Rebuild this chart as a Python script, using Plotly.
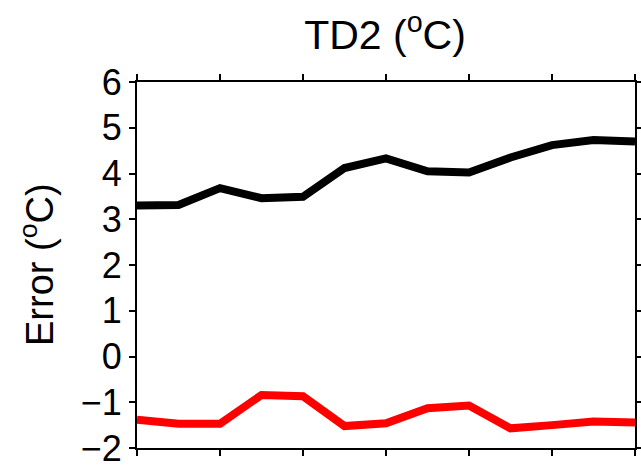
import plotly.graph_objects as go

hours = [0, 1, 2, 3, 4, 5, 6, 7, 8, 9, 10, 11, 12]
black_series = [3.30, 3.31, 3.68, 3.46, 3.49, 4.12, 4.33, 4.05, 4.02, 4.35, 4.62, 4.73, 4.70]
red_series = [-1.38, -1.47, -1.47, -0.84, -0.87, -1.52, -1.46, -1.13, -1.07, -1.57, -1.50, -1.42, -1.44]
y_ticks = [-2, -1, 0, 1, 2, 3, 4, 5, 6]
x_ticks = [0, 2, 4, 6, 8, 10, 12]

FONT = "Liberation Sans, Arial, sans-serif"

W, H = 641, 466

fig = go.Figure()
fig.add_trace(go.Scatter(x=hours, y=black_series, mode="lines",
                         line=dict(color="black", width=8), showlegend=False))
fig.add_trace(go.Scatter(x=hours, y=red_series, mode="lines",
                         line=dict(color="red", width=8), showlegend=False))

fig.update_layout(
    width=W, height=H,
    margin=dict(l=137, r=6, t=82, b=18, autoexpand=False),
    paper_bgcolor="white", plot_bgcolor="white",
    font=dict(family=FONT, color="black"),
    title=dict(text="TD2 (<sup>o</sup>C)", x=(385 - 137) / 498, xref="paper", xanchor="center",
               y=1 - 35 / H, yref="container", yanchor="middle",
               font=dict(size=41, family=FONT, color="black")),
    xaxis=dict(range=[0, 12], tickvals=x_ticks, showticklabels=False,
               showgrid=False, zeroline=False, showline=True, linecolor="black",
               linewidth=2, ticks="outside", ticklen=6, tickwidth=2,
               tickcolor="black", mirror="ticks", automargin=False),
    yaxis=dict(range=[-2, 6], tickvals=y_ticks, showgrid=False, zeroline=False,
               showline=True, linecolor="black", linewidth=2, ticks="outside",
               ticklen=6, tickwidth=2, tickcolor="black", mirror="ticks",
               automargin=False, ticklabeloverflow="allow",
               tickfont=dict(size=36, family=FONT, color="black")),
    annotations=[dict(text="Error (<sup>o</sup>C)", textangle=-90,
                      xref="paper", yref="paper", x=(37 - 137) / 498, y=0.5,
                      xanchor="center", yanchor="middle", showarrow=False,
                      font=dict(size=38, family=FONT, color="black"))],
)

# remove the browser's default 8px body margin so the figure fills the window
fig.write_html("out.html", config={"displayModeBar": False},
               post_script="document.body.style.margin='0';document.body.style.padding='0';")
